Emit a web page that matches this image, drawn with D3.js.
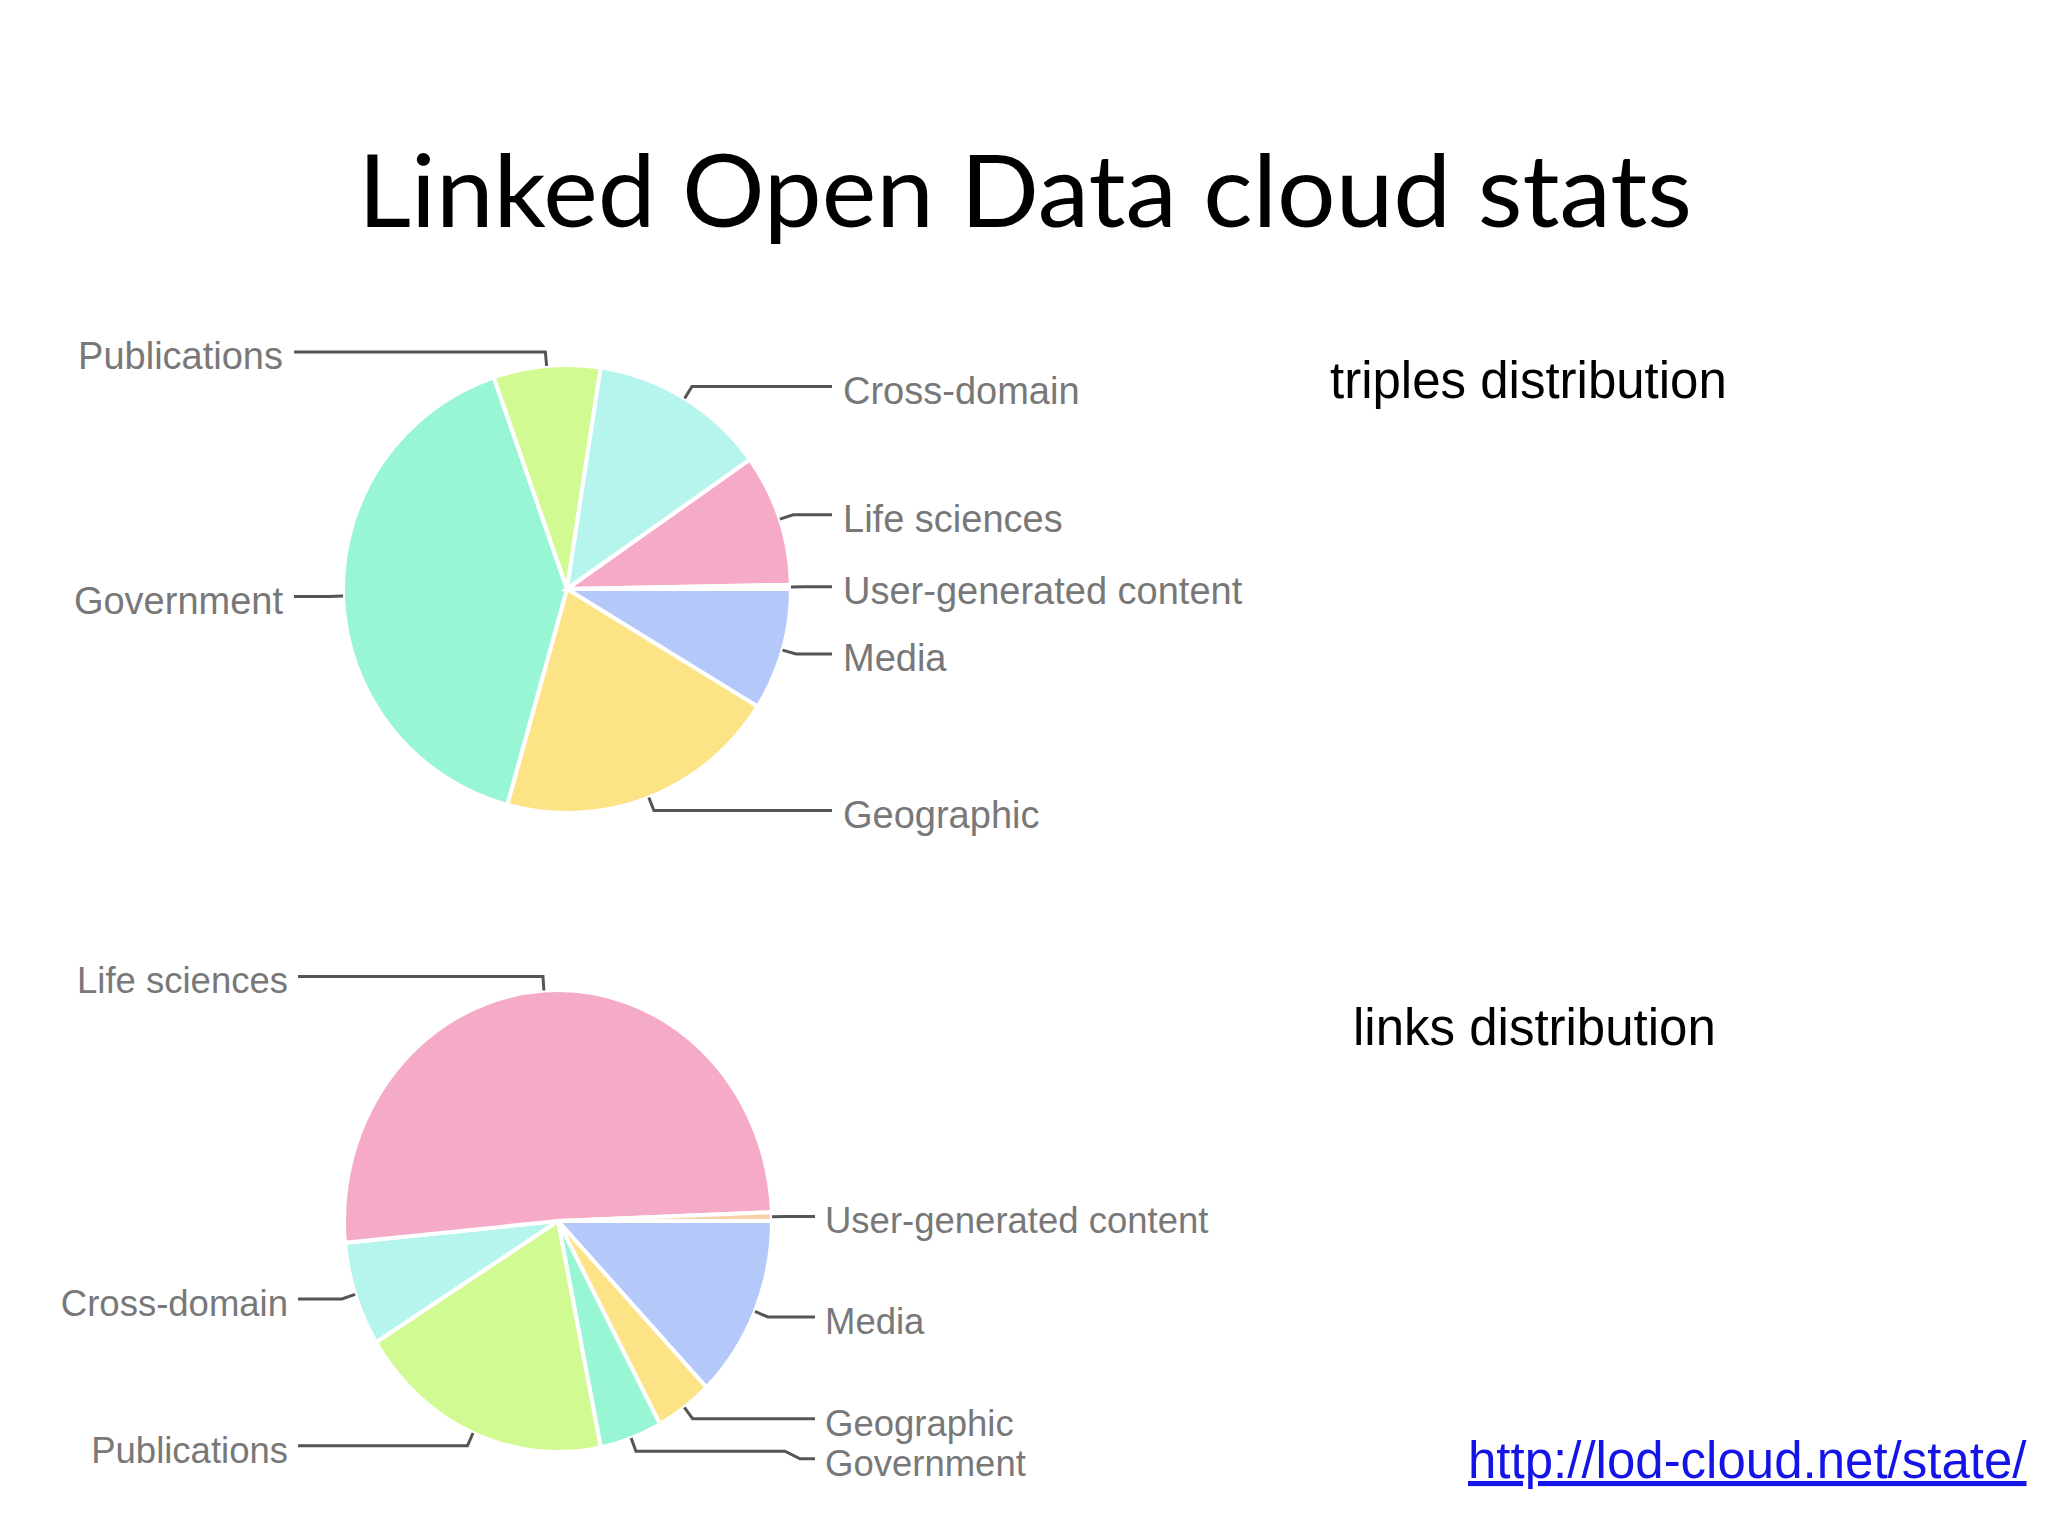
<!DOCTYPE html>
<html>
<head>
<meta charset="utf-8">
<script src="https://cdn.jsdelivr.net/npm/d3@7"></script>
<style>
  html, body { margin: 0; padding: 0; background: #ffffff; }
  svg { display: block; }
</style>
</head>
<body>
<svg id="chart" width="2048" height="1536"></svg>
<script>
// ---- data (shares in %) ----
const categories = ["Media", "Geographic", "Government", "Publications", "Cross-domain", "Life sciences", "User-generated content"];
const triplesShare = [8.8, 20.5, 40.4, 7.7, 12.8, 9.5, 0.3];
const linksShare   = [12.8, 4.3, 4.7, 19.4, 7.3, 50.9, 0.6];
const sliceColors  = ["#b4c8fa", "#fbe386", "#99f6d4", "#d2fa92", "#b6f5ee", "#f5aac7", "#f8cfa6"];
const titleText = "Linked Open Data cloud stats";
const chartCaptions = ["triples distribution", "links distribution"];
const sourceUrl = "http://lod-cloud.net/state/";

const svg = d3.select("#chart");
svg.append("rect").attr("width", 2048).attr("height", 1536).attr("fill", "#ffffff");

// title
svg.append("text")
  .attr("x", 1025).attr("y", 227)
  .attr("text-anchor", "middle")
  .attr("font-family", "Lato, 'Open Sans', sans-serif")
  .attr("font-size", 101)
  .attr("textLength", 1334)
  .attr("lengthAdjust", "spacingAndGlyphs")
  .attr("fill", "#000")
  .text(titleText);

const color = d3.scaleOrdinal().domain(categories).range(sliceColors);

function drawPie(values, cfg) {
  const data = categories.map((c, i) => ({ name: c, v: values[i] }));
  const pie = d3.pie().sort(null).value(d => d.v)
    .startAngle(Math.PI / 2).endAngle(Math.PI / 2 + 2 * Math.PI);
  const arcs = pie(data);
  const arc = d3.arc().innerRadius(0).outerRadius(cfg.rx);

  const g = svg.append("g")
    .attr("transform", `translate(${cfg.cx},${cfg.cy}) scale(1,${cfg.ry / cfg.rx})`);
  g.selectAll("path").data(arcs).join("path")
    .attr("d", arc)
    .attr("fill", d => color(d.data.name))
    .attr("stroke", "#ffffff")
    .attr("stroke-width", 4)
    .attr("vector-effect", "non-scaling-stroke");

  // label layout
  const e = 14;
  const labels = arcs.map(d => {
    const a = (d.startAngle + d.endAngle) / 2;
    const s = Math.sin(a), c = Math.cos(a);
    const p0 = [cfg.cx + cfg.rx * s, cfg.cy - cfg.ry * c];
    const p1 = [cfg.cx + (cfg.rx + e) * s, cfg.cy - (cfg.ry + e) * c];
    return { name: d.data.name, side: s >= 0 ? 1 : -1, p0, p1, y: p1[1] };
  });
  [1, -1].forEach(side => {
    const list = labels.filter(l => l.side === side).sort((a, b) => a.y - b.y);
    for (let i = 1; i < list.length; i++) {
      if (list[i].y < list[i - 1].y + 40) list[i].y = list[i - 1].y + 40;
    }
  });

  labels.forEach(l => {
    const end = l.side > 0 ? cfg.rightEnd : cfg.leftEnd;
    const path = d3.path();
    path.moveTo(l.p0[0], l.p0[1]);
    path.lineTo(l.p1[0], l.p1[1]);
    if (Math.abs(l.y - l.p1[1]) < 0.5) {
      path.lineTo(end, l.p1[1]);
    } else {
      path.lineTo(end - l.side * 30, l.p1[1]);
      path.lineTo(end - l.side * 15, l.y);
      path.lineTo(end, l.y);
    }
    svg.append("path")
      .attr("d", path.toString())
      .attr("fill", "none")
      .attr("stroke", "#555555")
      .attr("stroke-width", 3);

    svg.append("text")
      .attr("x", end + l.side * cfg.gap)
      .attr("y", l.y + 4)
      .attr("dy", "0.35em")
      .attr("text-anchor", l.side > 0 ? "start" : "end")
      .attr("font-family", "'Liberation Sans', Arial, sans-serif")
      .attr("font-size", cfg.fontSize)
      .attr("fill", "#787878")
      .text(l.name);
  });
}

drawPie(triplesShare, { cx: 567, cy: 589, rx: 224, ry: 224, rightEnd: 832, leftEnd: 294, gap: 11, fontSize: 38 });
drawPie(linksShare,   { cx: 558, cy: 1221, rx: 214, ry: 231, rightEnd: 815, leftEnd: 298, gap: 10, fontSize: 36.5 });

// captions
const capFont = "'Liberation Sans', Arial, sans-serif";
svg.append("text").attr("x", 1330).attr("y", 398)
  .attr("font-family", capFont).attr("font-size", 51).attr("fill", "#000")
  .text(chartCaptions[0]);
svg.append("text").attr("x", 1353).attr("y", 1045)
  .attr("font-family", capFont).attr("font-size", 51).attr("fill", "#000")
  .text(chartCaptions[1]);
svg.append("text").attr("x", 1468).attr("y", 1478)
  .attr("font-family", capFont).attr("font-size", 51).attr("fill", "#1414e6")
  .attr("text-decoration", "underline")
  .text(sourceUrl);
</script>
</body>
</html>
